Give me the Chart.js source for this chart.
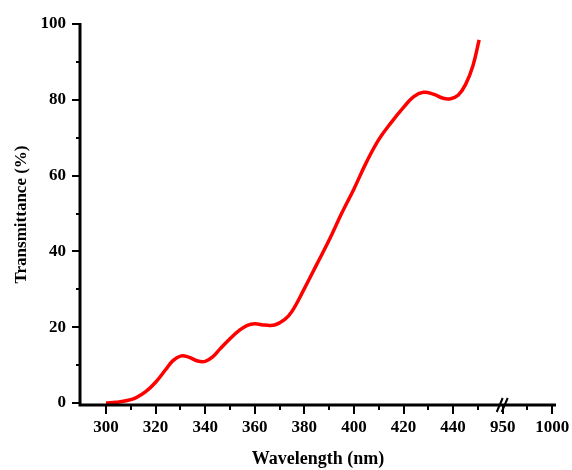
<!DOCTYPE html>
<html>
<head>
<meta charset="utf-8">
<script src="https://cdn.jsdelivr.net/npm/chart.js@4"></script>
<style>
  html, body { margin: 0; padding: 0; background: #fff; }
  #box { width: 572px; height: 470px; }
</style>
</head>
<body>
<div id="box"><canvas id="grafica"></canvas></div>
<script>
// curve data
const wavelength = [300, 304, 308, 312, 316, 320, 324, 327, 330, 333, 337, 340, 343, 346, 350, 354, 357, 360, 364, 368,
                    372, 375, 380, 385, 390, 395, 400, 405, 410, 415, 420, 424, 428, 432, 436, 439, 442, 445, 448, 450.5];
const transmittance = [0, 0.2, 0.6, 1.4, 3.0, 5.5, 8.8, 11.2, 12.4, 12.2, 11.1, 11.0, 12.2, 14.3, 17.0, 19.3, 20.5, 20.9, 20.6, 20.6,
                       22.0, 24.2, 30.2, 36.6, 43.0, 50.0, 56.5, 63.5, 69.5, 74.0, 78.0, 80.8, 82.0, 81.5, 80.4, 80.3, 81.2, 84.0, 89.0, 95.8];

// axis ticks (the x axis is broken between 460 and 950)
const xTickValues = [300, 320, 340, 360, 380, 400, 420, 440, 950, 1000];
const xTickLabels = ['300', '320', '340', '360', '380', '400', '420', '440', '950', '1000'];
const yTickValues = [0, 20, 40, 60, 80, 100];

// position on the broken axis
function toAxis(v) {
    return v <= 460 ? v : 460 + (v - 950) * 0.4;
}
const breakAt = toAxis(950);

const fuente = "'Liberation Serif', 'Times New Roman', serif";

// axis lines, tick marks and the // break sign
const ejesPlugin = {
    id: 'ejes',
    afterDraw(chart) {
        const ctx = chart.ctx;
        const area = chart.chartArea;
        const xs = chart.scales.x;
        const ys = chart.scales.y;
        ctx.save();
        ctx.strokeStyle = '#000';
        ctx.lineCap = 'butt';

        ctx.lineWidth = 3;
        ctx.beginPath();
        ctx.moveTo(area.left, area.top - 1);
        ctx.lineTo(area.left, area.bottom + 1.5);
        ctx.moveTo(area.left - 1.5, area.bottom);
        ctx.lineTo(area.right, area.bottom);
        ctx.stroke();

        ctx.lineWidth = 2;
        ctx.beginPath();
        xs.ticks.forEach(t => {
            const px = Math.round(xs.getPixelForValue(t.value));
            const mayor = t.label !== '';
            ctx.moveTo(px, area.bottom);
            ctx.lineTo(px, area.bottom + (mayor ? 9 : 5));
        });
        ys.ticks.forEach(t => {
            const py = Math.round(ys.getPixelForValue(t.value));
            const mayor = t.label !== '';
            ctx.moveTo(area.left, py);
            ctx.lineTo(area.left - (mayor ? 8 : 4), py);
        });
        ctx.stroke();

        // break sign
        const bx = xs.getPixelForValue(breakAt);
        ctx.lineWidth = 2;
        ctx.beginPath();
        [-3, 2].forEach(d => {
            ctx.moveTo(bx + d - 3, area.bottom + 7);
            ctx.lineTo(bx + d + 3, area.bottom - 7);
        });
        ctx.stroke();
        ctx.restore();
    }
};

const puntos = wavelength.map((w, i) => ({ x: toAxis(w), y: transmittance[i] }));

new Chart(document.getElementById('grafica').getContext('2d'), {
    type: 'line',
    data: {
        datasets: [{
            data: puntos,
            borderColor: '#ff0000',
            borderWidth: 3.5,
            pointRadius: 0,
            tension: 0.4,
            fill: false
        }]
    },
    options: {
        responsive: true,
        maintainAspectRatio: false,
        animation: false,
        events: [],
        layout: { padding: { top: 24, right: 16, left: 0, bottom: 0 } },
        plugins: {
            legend: { display: false },
            tooltip: { enabled: false }
        },
        scales: {
            x: {
                type: 'linear',
                min: 289.5,
                max: 481.5,
                grid: { display: false },
                border: { display: false },
                afterBuildTicks: s => {
                    const lista = [];
                    for (let v = 300; v <= 480; v += 10) lista.push({ value: v });
                    s.ticks = lista;
                },
                afterFit: s => {
                    s.height = 65;
                    s.paddingLeft = 0;
                    s.paddingRight = 0;
                },
                ticks: {
                    autoSkip: false,
                    maxRotation: 0,
                    padding: 4,
                    color: '#000',
                    font: { family: fuente, size: 17, weight: 'bold' },
                    callback: v => {
                        const i = xTickValues.findIndex(t => toAxis(t) === v);
                        return i >= 0 ? xTickLabels[i] : '';
                    }
                },
                title: {
                    display: true,
                    text: 'Wavelength (nm)',
                    color: '#000',
                    font: { family: fuente, size: 18, weight: 'bold' },
                    padding: { top: 0, bottom: 0 }
                }
            },
            y: {
                type: 'linear',
                min: -0.5,
                max: 100,
                grid: { display: false },
                border: { display: false },
                afterBuildTicks: s => {
                    const lista = [];
                    for (let v = 0; v <= 100; v += 10) lista.push({ value: v });
                    s.ticks = lista;
                },
                afterFit: s => {
                    s.width = 80;
                    s.paddingTop = 0;
                    s.paddingBottom = 0;
                },
                ticks: {
                    autoSkip: false,
                    padding: 6,
                    color: '#000',
                    font: { family: fuente, size: 17, weight: 'bold' },
                    callback: v => yTickValues.includes(v) ? String(v) : ''
                },
                title: {
                    display: true,
                    text: 'Transmittance (%)',
                    color: '#000',
                    font: { family: fuente, size: 17, weight: 'bold' },
                    padding: { top: 11, bottom: 0 }
                }
            }
        }
    },
    plugins: [ejesPlugin]
});
</script>
</body>
</html>
